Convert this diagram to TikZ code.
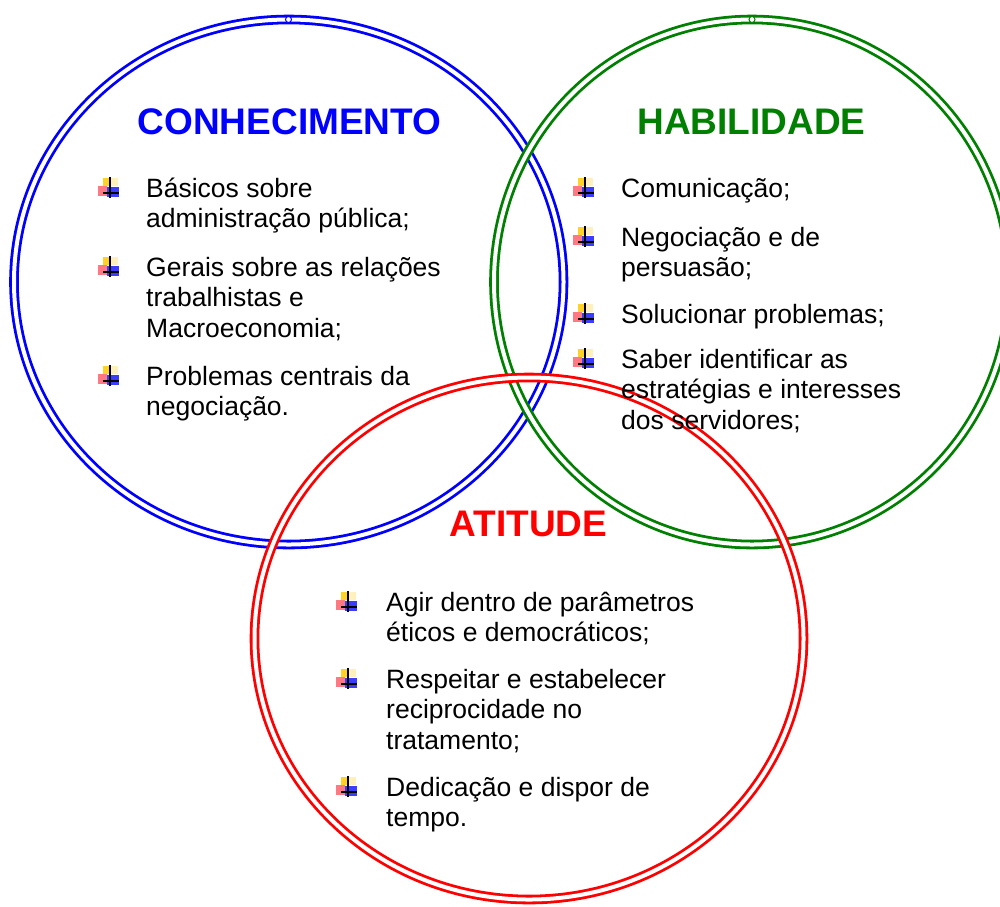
\documentclass[tikz,border=0pt]{standalone}
\usepackage{fontspec}
\setmainfont{Liberation Sans}
\definecolor{cblue}{RGB}{0,0,255}
\definecolor{cgreen}{RGB}{0,128,0}
\definecolor{cred}{RGB}{255,0,0}
\definecolor{byel}{RGB}{255,210,40}
\definecolor{blyel}{RGB}{255,240,190}
\definecolor{bpink}{RGB}{255,120,130}
\definecolor{bblue}{RGB}{60,60,255}
\newcommand\lnA[1]{\vtop{\hbox{#1}}}
\newcommand\lnB[2]{\vtop{\hbox{#1}\hbox{#2}}}
\newcommand\lnC[3]{\vtop{\hbox{#1}\hbox{#2}\hbox{#3}}}
\tikzset{
  ring/.style={line width=2.8pt, double=white, double distance=4pt},
  ttl/.style={font=\fontsize{37}{40}\selectfont\bfseries, anchor=base},
  item/.style={font=\fontsize{26.5}{30.5}\selectfont, anchor=base west, inner sep=0pt},
  mk/.style={circle, draw, fill=white, inner sep=0pt, minimum size=6pt, line width=1pt},
  bul/.pic={
    \fill[blyel] (-7,-9) rectangle (8,-1);
    \fill[byel] (-7,-9) rectangle (0,-1);
    \fill[bpink] (-12,-1) rectangle (-3,9);
    \fill[bblue] (-3,0) rectangle (9,10);
    \draw[black, line width=1.3pt] (0,-10) -- (0,11);
    \draw[black, line width=1.3pt] (-7,6) -- (9,6);
  }
}
\begin{document}
\begin{tikzpicture}[x=1pt,y=-1pt]
\useasboundingbox (0,0) rectangle (1000,906);
\clip (0,0) rectangle (1000,906);
\fill[white] (0,0) rectangle (1000,906);
% circles
\draw[ring, cblue] (288.75,282) ellipse [x radius=274.75, y radius=262.5];
\draw[ring, cgreen] (752,282) ellipse [x radius=258, y radius=262.5];
\draw[ring, cred] (529,638.5) ellipse [x radius=274.5, y radius=261];
\node[mk, draw=cblue] (mb) at (288.5,19.5) {};
\node[mk, draw=cgreen] (mg) at (752,19.5) {};
% titles
\node[ttl, text=cblue] (tb) at (289.5,134) {CONHECIMENTO};
\node[ttl, text=cgreen] (tg) at (751.5,134) {HABILIDADE};
\node[ttl, text=cred] (tr) at (528.5,536) {ATITUDE};
% blue items
\pic at (110,187) {bul};
\node[item] (b1) at (146,197) {\lnB{Básicos sobre}{administração pública;}};
\pic at (110,266) {bul};
\node[item] (b2) at (146,276) {\lnC{Gerais sobre as relações}{trabalhistas e}{Macroeconomia;}};
\pic at (110,375) {bul};
\node[item] (b3) at (146,385) {\lnB{Problemas centrais da}{negociação.}};
% green items
\pic at (585,187) {bul};
\node[item] (g1) at (621,197) {\lnA{Comunicação;}};
\pic at (585,236) {bul};
\node[item] (g2) at (621,246) {\lnB{Negociação e de}{persuasão;}};
\pic at (585,313) {bul};
\node[item] (g3) at (621,323) {\lnA{Solucionar problemas;}};
\pic at (585,358) {bul};
\node[item] (g4) at (621,368) {\lnC{Saber identificar as}{estratégias e interesses}{dos servidores;}};
% red items
\pic at (348,601) {bul};
\node[item] (r1) at (386,611) {\lnB{Agir dentro de parâmetros}{éticos e democráticos;}};
\pic at (348,678) {bul};
\node[item] (r2) at (386,688) {\lnC{Respeitar e estabelecer}{reciprocidade no}{tratamento;}};
\pic at (348,786) {bul};
\node[item] (r3) at (386,796) {\lnB{Dedicação e dispor de}{tempo.}};
\end{tikzpicture}
\end{document}
